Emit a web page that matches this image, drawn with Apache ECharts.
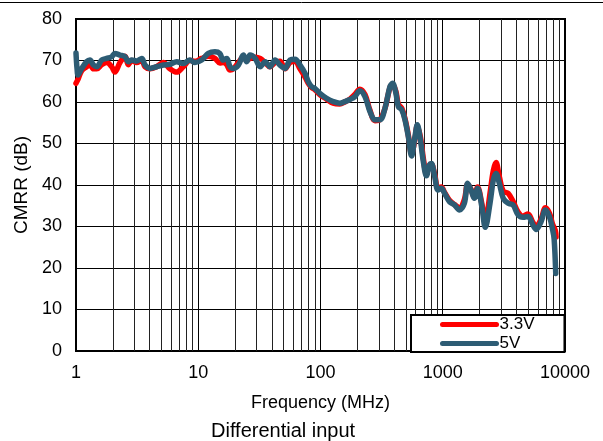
<!DOCTYPE html>
<html>
<head>
<meta charset="utf-8">
<script src="https://cdn.jsdelivr.net/npm/echarts@6/dist/echarts.min.js"></script>
<style>
    html, body { margin: 0; padding: 0; background: #fff; }
    #cmrr_chart { width: 603px; height: 441px; }
</style>
</head>
<body>
<div id="cmrr_chart"></div>
<script>
// 5V 曲线 (频率 MHz / CMRR dB)
const freq5V = [1.0, 1.02, 1.04, 1.11, 1.22, 1.3, 1.39, 1.48, 1.62, 1.78, 1.96, 2.08, 2.29, 2.52, 2.68, 2.86, 3.13, 3.45, 3.67, 4.03, 4.57, 5.18, 5.87, 6.66, 7.54, 8.56, 9.4, 10.66, 12.1, 13.7, 15.0, 16.0, 17.1, 18.2, 19.4, 21.3, 23.4, 24.9, 26.5, 29.2, 32.1, 35.3, 38.6, 42.5, 46.6, 51.3, 56.3, 61.9, 68.0, 74.8, 79.4, 84.5, 89.8, 98.7, 112, 127, 144, 158, 174, 191, 210, 231, 254, 279, 307, 337, 370, 389, 414, 433, 462, 491, 523, 556, 592, 619, 657, 697, 735, 783, 807, 860, 914, 973, 1035, 1135, 1247, 1369, 1503, 1600, 1703, 1812, 1928, 2088, 2228, 2435, 2593, 2727, 2903, 3127, 3431, 3765, 4131, 4533, 4974, 5457, 5813, 6379, 6918, 7450, 7925, 8150, 8400]
const cmrr5V = [71.8, 68.0, 66.5, 68.0, 69.7, 70.1, 68.9, 68.5, 70.1, 70.5, 70.9, 71.7, 71.3, 70.9, 69.7, 70.1, 69.9, 70.5, 68.9, 68.1, 68.5, 68.9, 69.1, 69.7, 69.3, 70.1, 69.5, 70.1, 71.7, 72.1, 71.7, 70.1, 70.5, 68.5, 68.1, 68.9, 71.3, 69.7, 71.3, 70.5, 68.5, 69.7, 68.5, 70.1, 68.9, 68.1, 70.1, 70.3, 68.9, 66.9, 64.9, 63.7, 63.3, 62.1, 60.9, 60.1, 59.7, 60.1, 60.6, 61.3, 62.7, 61.3, 57.7, 55.7, 55.7, 58.5, 63.7, 64.5, 62.1, 58.9, 58.1, 55.7, 51.6, 47.0, 51.6, 54.5, 50.8, 45.2, 42.2, 45.0, 45.2, 42.0, 38.8, 39.2, 38.0, 36.0, 35.2, 34.0, 35.6, 40.4, 38.8, 36.8, 39.2, 34.8, 29.8, 35.6, 41.2, 42.8, 40.4, 36.8, 35.6, 35.2, 32.8, 32.2, 32.4, 30.4, 29.3, 31.2, 34.0, 32.4, 29.2, 27.0, 18.7]
// 3.3V 曲线
const freq33V = [1.0, 1.04, 1.11, 1.22, 1.3, 1.39, 1.48, 1.62, 1.78, 1.96, 2.08, 2.29, 2.52, 2.68, 2.86, 3.13, 3.45, 3.67, 4.03, 4.57, 5.18, 5.87, 6.66, 7.54, 8.56, 9.4, 10.66, 12.1, 13.7, 15.0, 16.0, 17.1, 18.2, 19.4, 21.3, 23.4, 24.9, 26.5, 29.2, 32.1, 35.3, 38.6, 42.5, 46.6, 51.3, 56.3, 61.9, 68.0, 74.8, 79.4, 84.5, 89.8, 98.7, 112, 127, 144, 158, 174, 191, 210, 231, 254, 279, 307, 337, 370, 389, 414, 433, 462, 491, 523, 556, 592, 619, 657, 697, 735, 783, 807, 860, 914, 973, 1035, 1135, 1247, 1369, 1503, 1600, 1703, 1812, 1928, 2088, 2228, 2435, 2593, 2727, 2903, 3127, 3431, 3765, 4131, 4533, 4974, 5457, 5813, 6379, 6918, 7450, 7925, 8340, 8450]
const cmrr33V = [64.5, 65.5, 67.5, 68.5, 69.0, 68.0, 68.0, 69.0, 69.5, 68.5, 67.2, 69.5, 71.0, 69.0, 70.0, 69.5, 70.0, 68.5, 68.0, 68.5, 69.5, 68.0, 67.2, 68.5, 70.0, 69.8, 70.5, 71.0, 70.5, 69.4, 69.5, 69.0, 67.7, 68.0, 69.5, 70.8, 70.0, 70.5, 70.8, 70.5, 69.5, 68.5, 69.5, 69.8, 68.0, 69.5, 69.8, 68.0, 66.0, 64.5, 63.5, 63.0, 61.8, 60.7, 59.7, 59.5, 60.0, 60.7, 61.8, 63.1, 61.8, 58.0, 55.5, 55.8, 58.5, 63.5, 64.3, 62.5, 59.5, 58.5, 56.0, 52.0, 47.5, 51.0, 54.3, 51.5, 46.0, 42.8, 44.8, 45.0, 42.5, 39.2, 39.5, 38.2, 36.3, 35.3, 34.5, 36.5, 40.2, 39.0, 37.0, 39.5, 35.5, 31.0, 38.0, 43.5, 45.4, 42.0, 38.5, 38.0, 36.0, 33.5, 32.5, 33.0, 31.0, 30.0, 31.8, 34.5, 33.2, 30.5, 29.0, 27.5]
const seriesNames = ['3.3V', '5V']
const xTickLabels = ['1', '10', '100', '1000', '10000']
const yTickLabels = ['0', '10', '20', '30', '40', '50', '60', '70', '80']

// 对数轴上的 2..9 次网格线
const minorGrid = []
for (let d = 1; d < 10000; d *= 10) {
    for (let k = 2; k <= 9; k++) {
        minorGrid.push(k * d)
    }
}

const zip = (xs, ys) => xs.map((x, i) => [x, ys[i]])
const fontFamily = 'Liberation Sans, Arial, sans-serif'

const myChart = echarts.init(document.getElementById('cmrr_chart'))
const option = {
    animation: false,
    textStyle: { fontFamily: fontFamily },
    title: {
        text: 'Differential input',
        left: 211,
        top: 421,
        padding: 0,
        textStyle: { fontSize: 20, fontWeight: 'normal', color: '#000', fontFamily: fontFamily }
    },
    graphic: [
        {
            type: 'line',
            shape: { x1: 0, y1: 2.5, x2: 603, y2: 2.5 },
            style: { stroke: '#000', lineWidth: 1 }
        }
    ],
    legend: {
        data: [
            { name: '3.3V', itemStyle: { opacity: 0 }, lineStyle: { width: 5 } },
            { name: '5V', itemStyle: { opacity: 0 }, lineStyle: { width: 5 } }
        ],
        orient: 'vertical',
        left: 411,
        top: 315,
        padding: [1, 30, 0, 29],
        itemGap: 2,
        itemWidth: 54,
        itemHeight: 14,
        backgroundColor: '#fff',
        borderColor: '#000',
        borderWidth: 2,
        borderRadius: 0,
        textStyle: { fontSize: 17, lineHeight: 14, color: '#000', padding: [0, 0, 0, -2] }
    },
    grid: {
        show: true,
        left: 76,
        top: 19,
        right: 38,
        bottom: 90,
        borderColor: '#000',
        borderWidth: 2,
        backgroundColor: '#fff'
    },
    xAxis: {
        type: 'log',
        logBase: 10,
        min: 1,
        max: 10000,
        name: 'Frequency (MHz)',
        nameLocation: 'middle',
        nameGap: 43,
        nameTextStyle: { fontSize: 18, color: '#000' },
        axisLine: { show: false },
        axisTick: { show: false },
        axisLabel: {
            fontSize: 18,
            color: '#000',
            margin: 13,
            formatter: (val) => xTickLabels[Math.round(Math.log10(val))]
        },
        splitLine: { show: true, lineStyle: { color: '#000', width: 1 } }
    },
    yAxis: {
        type: 'value',
        min: 0,
        max: 80,
        interval: 10,
        name: 'CMRR (dB)',
        nameLocation: 'middle',
        nameRotate: 90,
        nameGap: 44,
        nameTextStyle: { fontSize: 19, color: '#000' },
        axisLine: { show: false },
        axisTick: { show: false },
        axisLabel: {
            fontSize: 18,
            color: '#000',
            margin: 14,
            formatter: (val) => yTickLabels[Math.round(val / 10)]
        },
        splitLine: { show: true, lineStyle: { color: '#000', width: 1 } }
    },
    series: [
        {
            name: 'grid',
            type: 'line',
            data: [],
            z: 1,
            silent: true,
            markLine: {
                z: 1,
                silent: true,
                symbol: 'none',
                label: { show: false },
                lineStyle: { color: '#222', width: 1, type: 'solid' },
                data: minorGrid.map((v) => ({ xAxis: v }))
            }
        },
        {
            name: seriesNames[0],
            type: 'line',
            data: zip(freq33V, cmrr33V),
            showSymbol: false,
            symbol: 'none',
            smooth: 0.35,
            z: 3,
            lineStyle: { color: '#ff0000', width: 5.5, cap: 'round', join: 'round' },
            itemStyle: { color: '#ff0000' }
        },
        {
            name: seriesNames[1],
            type: 'line',
            data: zip(freq5V, cmrr5V),
            showSymbol: false,
            symbol: 'none',
            smooth: 0.35,
            z: 4,
            lineStyle: { color: '#2d5c74', width: 5.5, cap: 'round', join: 'round' },
            itemStyle: { color: '#2d5c74' }
        }
    ]
}
myChart.setOption(option)
</script>
</body>
</html>
